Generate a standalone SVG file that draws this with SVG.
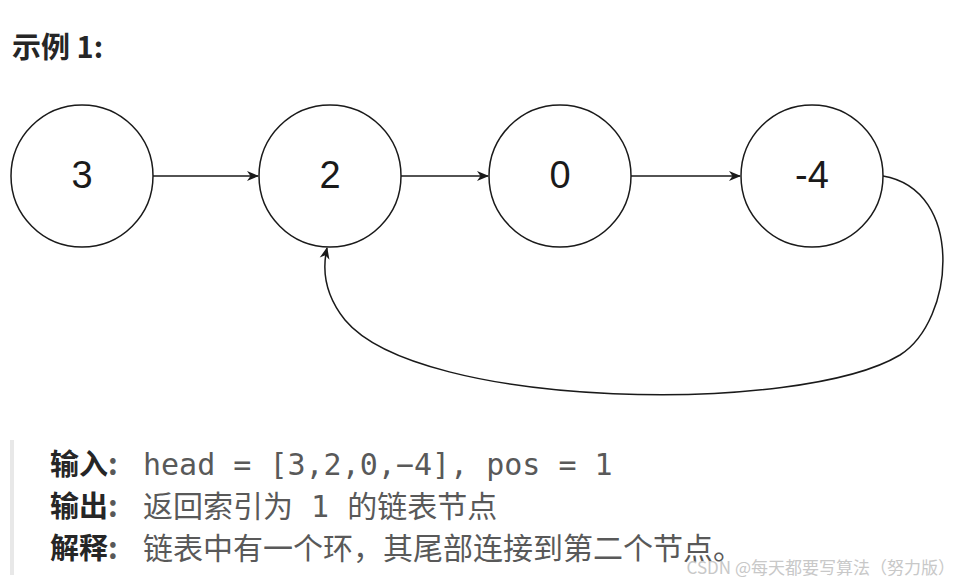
<svg xmlns="http://www.w3.org/2000/svg" width="965" height="583" viewBox="0 0 965 583">
<style>
.n circle{fill:#fff;stroke:#1a1a1a;stroke-width:1.5}
.n text{font-family:"Liberation Sans",Arial,sans-serif;font-size:38px;fill:#1a1a1a;text-anchor:middle}
.c path{fill:none;stroke:#1a1a1a;stroke-width:1.5}
.b{font-family:"Noto Sans CJK SC",sans-serif;font-weight:bold;fill:#262626;font-size:29px}
.t{font-family:"Noto Sans CJK SC",sans-serif;fill:#595959;font-size:30px}
.m{font-family:"DejaVu Sans Mono","Noto Sans CJK SC",monospace;fill:#595959;font-size:30px}
</style>
<defs><marker id="a" viewBox="0 0 12 12" refX="11" refY="6" markerWidth="12" markerHeight="12" markerUnits="userSpaceOnUse" orient="auto"><path d="M0,1 L12,6 L0,11 L3.5,6 Z" fill="#1a1a1a"/></marker></defs>
<rect width="965" height="583" fill="#fff"/>
<text x="12" y="58" class="b" font-size="25">示例 1:</text>
<g class="c">
<path d="M153,176 H258" marker-end="url(#a)"/>
<path d="M401,176 H488" marker-end="url(#a)"/>
<path d="M631,176 H740" marker-end="url(#a)"/>
<path d="M883,176 C965,190 955,320 900,355 C800,415 420,410 345,320 C325,295 322,270 327,248" marker-end="url(#a)"/>
</g>
<g id="n3" class="n"><circle cx="82" cy="176" r="71"/><text x="82" y="188">3</text></g>
<g id="n2" class="n"><circle cx="330" cy="176" r="71"/><text x="330" y="188">2</text></g>
<g id="n0" class="n"><circle cx="560" cy="176" r="71"/><text x="560" y="188">0</text></g>
<g id="n4" class="n"><circle cx="812" cy="176" r="71"/><text x="812" y="188">-4</text></g>
<rect x="10" y="440" width="4" height="135" fill="#e8e8e8"/>
<text x="50" y="475" class="b">输入<tspan class="t">:</tspan></text><text x="143" y="475" class="m">head = [3,2,0,−4], pos = 1</text>
<text x="50" y="517" class="b">输出<tspan class="t">:</tspan></text><text x="143" y="517" class="t">返回索引为<tspan class="m"> 1 </tspan>的链表节点</text>
<text x="50" y="559" class="b">解释<tspan class="t">:</tspan></text><text x="143" y="559" class="t">链表中有一个环，其尾部连接到第二个节点。</text>
<text x="955" y="574" text-anchor="end" font-family="Noto Sans CJK SC,sans-serif" font-size="17" fill="#c8c8c8">CSDN @每天都要写算法（努力版）</text>
</svg>
